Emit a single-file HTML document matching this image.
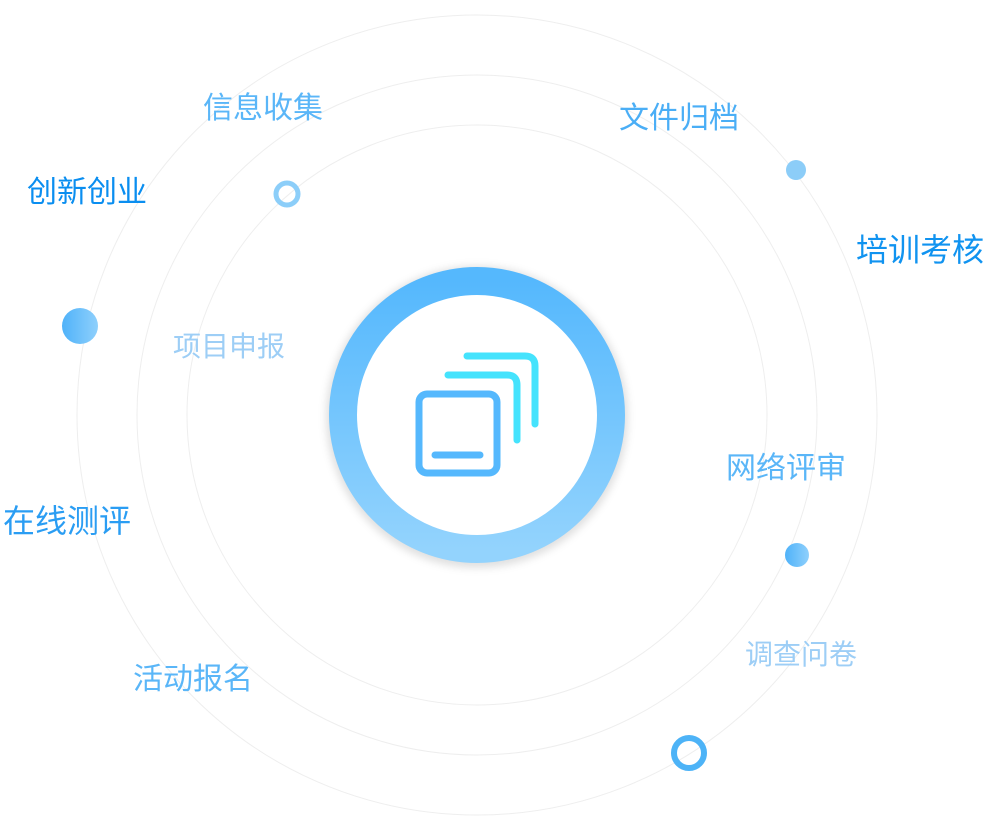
<!DOCTYPE html>
<html><head><meta charset="utf-8"><style>
body{margin:0;width:987px;height:832px;background:#fff;overflow:hidden;position:relative;font-family:"Liberation Sans","Noto Sans CJK SC",sans-serif}
.t{position:absolute;white-space:nowrap;line-height:1}
</style></head><body>
<svg width="987" height="832" style="position:absolute;left:0;top:0">
<defs>
<linearGradient id="rg" x1="0" y1="0" x2="0" y2="1"><stop offset="0" stop-color="#55b8fd"/><stop offset="1" stop-color="#93d3fd"/></linearGradient>
<linearGradient id="dg" x1="0" y1="0" x2="1" y2="0"><stop offset="0" stop-color="#4fb2f9"/><stop offset="1" stop-color="#8fd0fc"/></linearGradient>
<filter id="sh" x="-20%" y="-20%" width="140%" height="140%"><feGaussianBlur stdDeviation="4"/></filter>
</defs>
<g fill="none" stroke="#eeeeee" stroke-width="1">
<circle cx="477" cy="415" r="400"/>
<circle cx="477" cy="415" r="340"/>
<circle cx="477" cy="415" r="290"/>
</g>
<circle cx="477" cy="417" r="136" fill="none" stroke="#000" stroke-opacity="0.12" stroke-width="30" filter="url(#sh)"/>
<circle cx="477" cy="415" r="134" fill="#fff" stroke="url(#rg)" stroke-width="28"/>
<g fill="none" stroke-linecap="round" stroke-width="7">
<path d="M467 356 H525 Q535 356 535 366 V424" stroke="#45e3fd"/>
<path d="M448 375 H507 Q517 375 517 385 V440" stroke="#45e3fd"/>
<rect x="419" y="394" width="78" height="79" rx="8" stroke="#55b8fd"/>
<path d="M435 455 H480" stroke="#55b8fd"/>
</g>
<circle cx="796" cy="170" r="10" fill="#8ccdf8"/>
<circle cx="287" cy="194" r="11" fill="none" stroke="#8ccef9" stroke-width="5"/>
<circle cx="80" cy="326" r="18" fill="url(#dg)"/>
<circle cx="797" cy="555" r="12" fill="url(#dg)"/>
<circle cx="689" cy="753" r="15" fill="none" stroke="#4db3f7" stroke-width="6"/>
</svg>
<div class="t" style="left:203px;top:94px;font-size:30px;color:#5ab6f8">信息收集</div>
<div class="t" style="left:27px;top:178px;font-size:30px;color:#0a8ef0">创新创业</div>
<div class="t" style="left:619px;top:104px;font-size:30px;color:#4aaef6">文件归档</div>
<div class="t" style="left:856px;top:234px;font-size:32px;color:#1093f0">培训考核</div>
<div class="t" style="left:173px;top:333px;font-size:28px;color:#9dcef6">项目申报</div>
<div class="t" style="left:726px;top:454px;font-size:30px;color:#5ab6f8">网络评审</div>
<div class="t" style="left:3px;top:505px;font-size:32px;color:#2a9df3">在线测评</div>
<div class="t" style="left:133px;top:665px;font-size:30px;color:#5ab6f8">活动报名</div>
<div class="t" style="left:745px;top:641px;font-size:28px;color:#9dcef6">调查问卷</div>
</body></html>
